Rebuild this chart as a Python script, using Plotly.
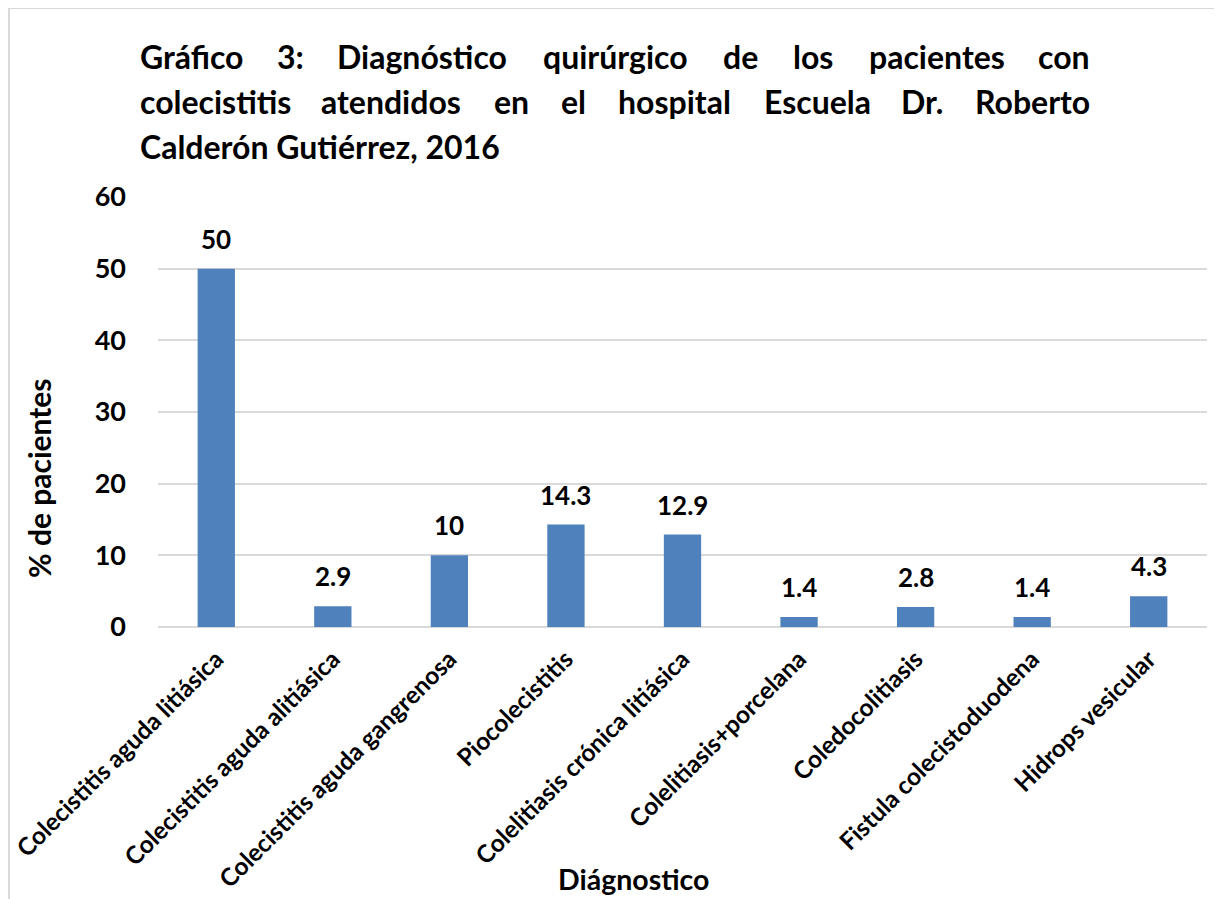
import plotly.graph_objects as go

# ---- data ----
categories = [
    "Colecistitis aguda litiásica",
    "Colecistitis aguda alitiásica",
    "Colecistitis aguda gangrenosa",
    "Piocolecistitis",
    "Colelitiasis crónica litiásica",
    "Colelitiasis+porcelana",
    "Coledocolitiasis",
    "Fistula colecistoduodena",
    "Hidrops vesicular",
]
values = [50, 2.9, 10, 14.3, 12.9, 1.4, 2.8, 1.4, 4.3]
value_labels = ["50", "2.9", "10", "14.3", "12.9", "1.4", "2.8", "1.4", "4.3"]
y_ticks = [0, 10, 20, 30, 40, 50, 60]
y_title = "% de pacientes"
x_title = "Diágnostico"
title_lines = [
    "Gráfico 3: Diagnóstico quirúrgico de los pacientes con",
    "colecistitis atendidos en el hospital Escuela Dr. Roberto",
    "Calderón Gutiérrez, 2016",
]

# ---- layout geometry (reference pixels; page body has an 8px margin) ----
OFF = 8
W, H = 1222 - OFF, 899 - OFF
RL, RR, RT, RB = 158, 1207, 197, 627          # plot area in reference pixels
PL, PR, PT, PB = RL - OFF, RR - OFF, RT - OFF, RB - OFF
FONT = "Lato"
BAR = "#4F81BD"
GRID = "#D9D9D9"


def px_x(p):
    return ((p - OFF) - PL) / (PR - PL)


def px_y(p):
    return (PB - (p - OFF)) / (PB - PT)


fig = go.Figure()
fig.add_trace(go.Bar(
    x=categories, y=values,
    marker=dict(color=BAR, line=dict(width=0)),
    hoverinfo="x+y",
))

annotations = []
for c, v, t in zip(categories, values, value_labels):
    annotations.append(dict(
        x=c, y=v, xref="x", yref="y", text=t, showarrow=False,
        yanchor="bottom", yshift=12,
        font=dict(family=FONT, size=26, color="black", weight="bold"),
    ))

# justified title: first word left-aligned, last right-aligned, others centred
TL, TR = 138, 1092
word_centres = [
    [None, 290, 422, 615, 740, 813, 937, None],
    [None, 391, 511, 573, 674, 817, 922, None],
]
line_y = [56, 101, 146]
title_font = dict(family=FONT, size=32, color="black", weight="bold")
for li, line in enumerate(title_lines):
    if li < 2:
        words = line.split(" ")
        for wi, w in enumerate(words):
            if wi == 0:
                x, anc = TL, "left"
            elif wi == len(words) - 1:
                x, anc = TR, "right"
            else:
                x, anc = word_centres[li][wi], "center"
            annotations.append(dict(
                x=px_x(x), y=px_y(line_y[li]), xref="paper", yref="paper",
                text=w, showarrow=False, xanchor=anc, yanchor="middle",
                font=title_font,
            ))
    else:
        annotations.append(dict(
            x=px_x(TL), y=px_y(line_y[li]), xref="paper", yref="paper",
            text=line, showarrow=False, xanchor="left", yanchor="middle",
            font=title_font,
        ))

annotations.append(dict(
    x=px_x(39), y=px_y(478), xref="paper", yref="paper", text=y_title,
    showarrow=False, textangle=-90, xanchor="center", yanchor="middle",
    font=dict(family=FONT, size=30, color="black", weight="bold"),
))
annotations.append(dict(
    x=px_x(633), y=px_y(879), xref="paper", yref="paper", text=x_title,
    showarrow=False, xanchor="center", yanchor="middle",
    font=dict(family=FONT, size=28.5, color="black", weight="bold"),
))

shapes = [dict(
    type="rect", xref="paper", yref="paper",
    x0=px_x(9), x1=px_x(1260), y0=px_y(940), y1=px_y(8),
    line=dict(color=GRID, width=2), fillcolor="rgba(0,0,0,0)", layer="below",
)]

fig.update_layout(
    width=W, height=H,
    margin=dict(l=PL, r=W - PR, t=PT, b=H - PB, autoexpand=False),
    paper_bgcolor="white", plot_bgcolor="white",
    showlegend=False,
    bargap=0.68,
    annotations=annotations,
    shapes=shapes,
    font=dict(family=FONT, color="black"),
)
fig.update_xaxes(
    tickangle=-45, showgrid=False, showline=False, ticks="",
    ticklabelstandoff=12,
    tickfont=dict(family=FONT, size=24.5, color="black", weight="bold"),
)
fig.update_yaxes(
    range=[0, 60], tickvals=y_ticks, showgrid=True, gridcolor=GRID, gridwidth=1.5,
    zeroline=True, zerolinecolor=GRID, zerolinewidth=2, showline=False, ticks="",
    ticklabelstandoff=31,
    tickfont=dict(family=FONT, size=27, color="black", weight="bold"),
)

fig.write_html("out.html")
